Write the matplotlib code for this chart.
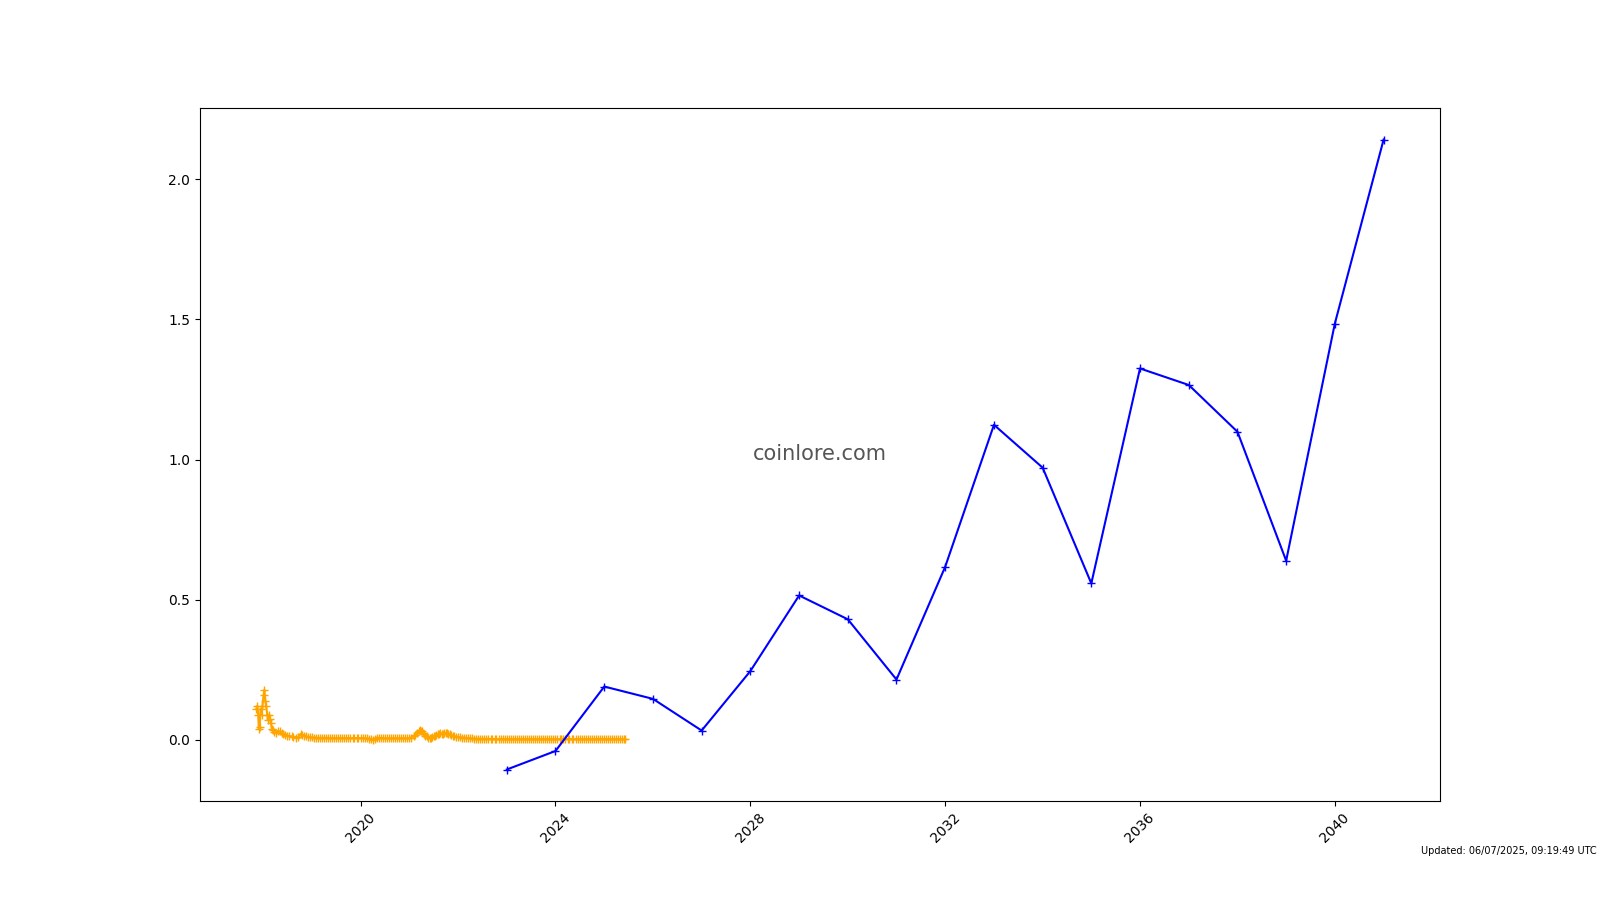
import matplotlib
matplotlib.use("Agg")
import matplotlib.pyplot as plt
import matplotlib.dates as mdates
import numpy as np
import pandas as pd

# historical price (orange)
hist_dates = [
    "2017-11-10", "2017-11-17", "2017-11-24", "2017-11-28", "2017-12-05",
    "2017-12-12", "2017-12-19", "2017-12-26", "2018-01-03", "2018-01-09",
    "2018-01-16", "2018-01-23", "2018-01-30", "2018-02-06", "2018-02-13",
    "2018-02-20", "2018-02-27", "2018-03-06", "2018-03-15", "2018-03-25",
    "2018-04-05", "2018-04-20", "2018-05-05", "2018-05-20", "2018-06-01",
    "2018-06-15", "2018-07-01", "2018-07-15", "2018-08-01", "2018-08-15",
    "2018-09-01", "2018-09-20", "2018-10-10", "2018-10-20", "2018-11-01",
    "2018-11-15", "2018-12-01", "2018-12-15", "2019-01-01", "2019-01-15",
    "2019-02-01", "2019-02-15", "2019-03-01", "2019-03-15", "2019-04-01",
    "2019-04-15", "2019-05-01", "2019-05-15", "2019-06-01", "2019-06-15",
    "2019-07-01", "2019-07-15", "2019-08-01", "2019-08-15", "2019-09-01",
    "2019-09-15", "2019-10-01", "2019-10-15", "2019-11-01", "2019-11-15",
    "2019-12-01", "2019-12-15", "2020-01-01", "2020-01-15", "2020-02-01",
    "2020-02-15", "2020-03-01", "2020-03-15", "2020-04-01", "2020-04-15",
    "2020-05-01", "2020-05-15", "2020-06-01", "2020-06-15", "2020-07-01",
    "2020-07-15", "2020-08-01", "2020-08-15", "2020-09-01", "2020-09-15",
    "2020-10-01", "2020-10-15", "2020-11-01", "2020-11-15", "2020-12-01",
    "2020-12-15", "2021-01-01", "2021-01-15", "2021-02-01", "2021-02-15",
    "2021-03-01", "2021-03-10", "2021-03-20", "2021-03-28", "2021-04-05",
    "2021-04-12", "2021-04-20", "2021-04-28", "2021-05-10", "2021-05-20",
    "2021-06-01", "2021-06-10", "2021-06-20", "2021-07-01", "2021-07-10",
    "2021-07-20", "2021-08-01", "2021-08-10", "2021-08-20", "2021-09-01",
    "2021-09-10", "2021-09-20", "2021-10-01", "2021-10-10", "2021-10-20",
    "2021-11-01", "2021-11-10", "2021-11-20", "2021-12-01", "2021-12-15",
    "2022-01-01", "2022-01-15", "2022-02-01", "2022-02-15", "2022-03-01",
    "2022-03-15", "2022-04-01", "2022-04-15", "2022-05-01", "2022-05-15",
    "2022-06-01", "2022-06-15", "2022-07-01", "2022-07-15", "2022-08-01",
    "2022-08-15", "2022-09-01", "2022-09-15", "2022-10-01", "2022-10-15",
    "2022-11-01", "2022-11-15", "2022-12-01", "2022-12-15", "2023-01-01",
    "2023-01-15", "2023-02-01", "2023-02-15", "2023-03-01", "2023-03-15",
    "2023-04-01", "2023-04-15", "2023-05-01", "2023-05-15", "2023-06-01",
    "2023-06-15", "2023-07-01", "2023-07-15", "2023-08-01", "2023-08-15",
    "2023-09-01", "2023-09-15", "2023-10-01", "2023-10-15", "2023-11-01",
    "2023-11-15", "2023-12-01", "2023-12-15", "2024-01-01", "2024-01-15",
    "2024-02-01", "2024-02-15", "2024-03-01", "2024-03-15", "2024-04-01",
    "2024-04-15", "2024-05-01", "2024-05-15", "2024-06-01", "2024-06-15",
    "2024-07-01", "2024-07-15", "2024-08-01", "2024-08-15", "2024-09-01",
    "2024-09-15", "2024-10-01", "2024-10-15", "2024-11-01", "2024-11-15",
    "2024-12-01", "2024-12-15", "2025-01-01", "2025-01-15", "2025-02-01",
    "2025-02-15", "2025-03-01", "2025-03-15", "2025-04-01", "2025-04-15",
    "2025-05-01", "2025-05-15", "2025-06-01", "2025-06-07",
]
hist_prices = [
    0.11, 0.12, 0.09, 0.04, 0.045,
    0.11, 0.09, 0.12, 0.16, 0.178,
    0.14, 0.12, 0.09, 0.07, 0.09,
    0.075, 0.06, 0.04, 0.035, 0.028,
    0.025, 0.03, 0.03, 0.025, 0.02,
    0.017, 0.015, 0.013, 0.012, 0.01,
    0.008, 0.01, 0.022, 0.018, 0.015,
    0.012, 0.01, 0.009, 0.009, 0.008,
    0.008, 0.007, 0.007, 0.007, 0.007,
    0.007, 0.007, 0.006, 0.006, 0.006,
    0.006, 0.006, 0.006, 0.006, 0.006,
    0.006, 0.006, 0.006, 0.006, 0.006,
    0.006, 0.006, 0.006, 0.006, 0.005,
    0.005, 0.004, 0.003, 0.001, 0.004,
    0.008, 0.007, 0.006, 0.006, 0.005,
    0.005, 0.005, 0.005, 0.005, 0.005,
    0.005, 0.005, 0.005, 0.005, 0.005,
    0.005, 0.006, 0.008, 0.012, 0.018,
    0.025, 0.03, 0.035, 0.032, 0.03,
    0.025, 0.02, 0.015, 0.012, 0.008,
    0.006, 0.008, 0.01, 0.012, 0.015,
    0.018, 0.02, 0.022, 0.024, 0.022,
    0.022, 0.024, 0.025, 0.023, 0.02,
    0.019, 0.018, 0.015, 0.012, 0.011,
    0.01, 0.009, 0.008, 0.008, 0.007,
    0.006, 0.005, 0.005, 0.004, 0.004,
    0.004, 0.004, 0.003, 0.003, 0.003,
    0.003, 0.003, 0.003, 0.002, 0.002,
    0.002, 0.002, 0.002, 0.002, 0.002,
    0.002, 0.002, 0.002, 0.002, 0.002,
    0.002, 0.002, 0.002, 0.002, 0.002,
    0.002, 0.002, 0.002, 0.002, 0.002,
    0.002, 0.002, 0.002, 0.002, 0.002,
    0.002, 0.002, 0.002, 0.002, 0.002,
    0.002, 0.002, 0.002, 0.003, 0.003,
    0.003, 0.002, 0.002, 0.002, 0.002,
    0.002, 0.002, 0.002, 0.002, 0.002,
    0.002, 0.002, 0.002, 0.002, 0.003,
    0.003, 0.003, 0.002, 0.002, 0.002,
    0.002, 0.002, 0.002, 0.002, 0.002,
    0.002, 0.002, 0.002, 0.002,
]

# forecast (blue)
pred_years = list(range(2023, 2042))
pred_prices = [
    -0.106, -0.04, 0.19, 0.146, 0.033, 0.245, 0.515, 0.43, 0.215, 0.617,
    1.124, 0.971, 0.558, 1.325, 1.266, 1.099, 0.639, 1.485, 2.142,
]

hist_x = pd.to_datetime(hist_dates)
pred_x = pd.to_datetime([f"{y}-01-01" for y in pred_years])

fig = plt.figure(figsize=(16, 9), dpi=100)
ax = fig.add_subplot(111)

ax.plot(hist_x, hist_prices, color='orange', marker='+')
ax.plot(pred_x, pred_prices, color='blue', marker='+')

ax.xaxis.set_major_locator(mdates.YearLocator(4))
ax.xaxis.set_major_formatter(mdates.DateFormatter('%Y'))
plt.xticks(rotation=45)

ax.text(0.5, 0.5, 'coinlore.com', transform=ax.transAxes, ha='center',
        va='center', fontsize=15, color='#555555')

fig.text(0.998, 0.054, 'Updated: 06/07/2025, 09:19:49 UTC', ha='right',
         va='center', fontsize=7)

fig.savefig('out.png', dpi=100)
